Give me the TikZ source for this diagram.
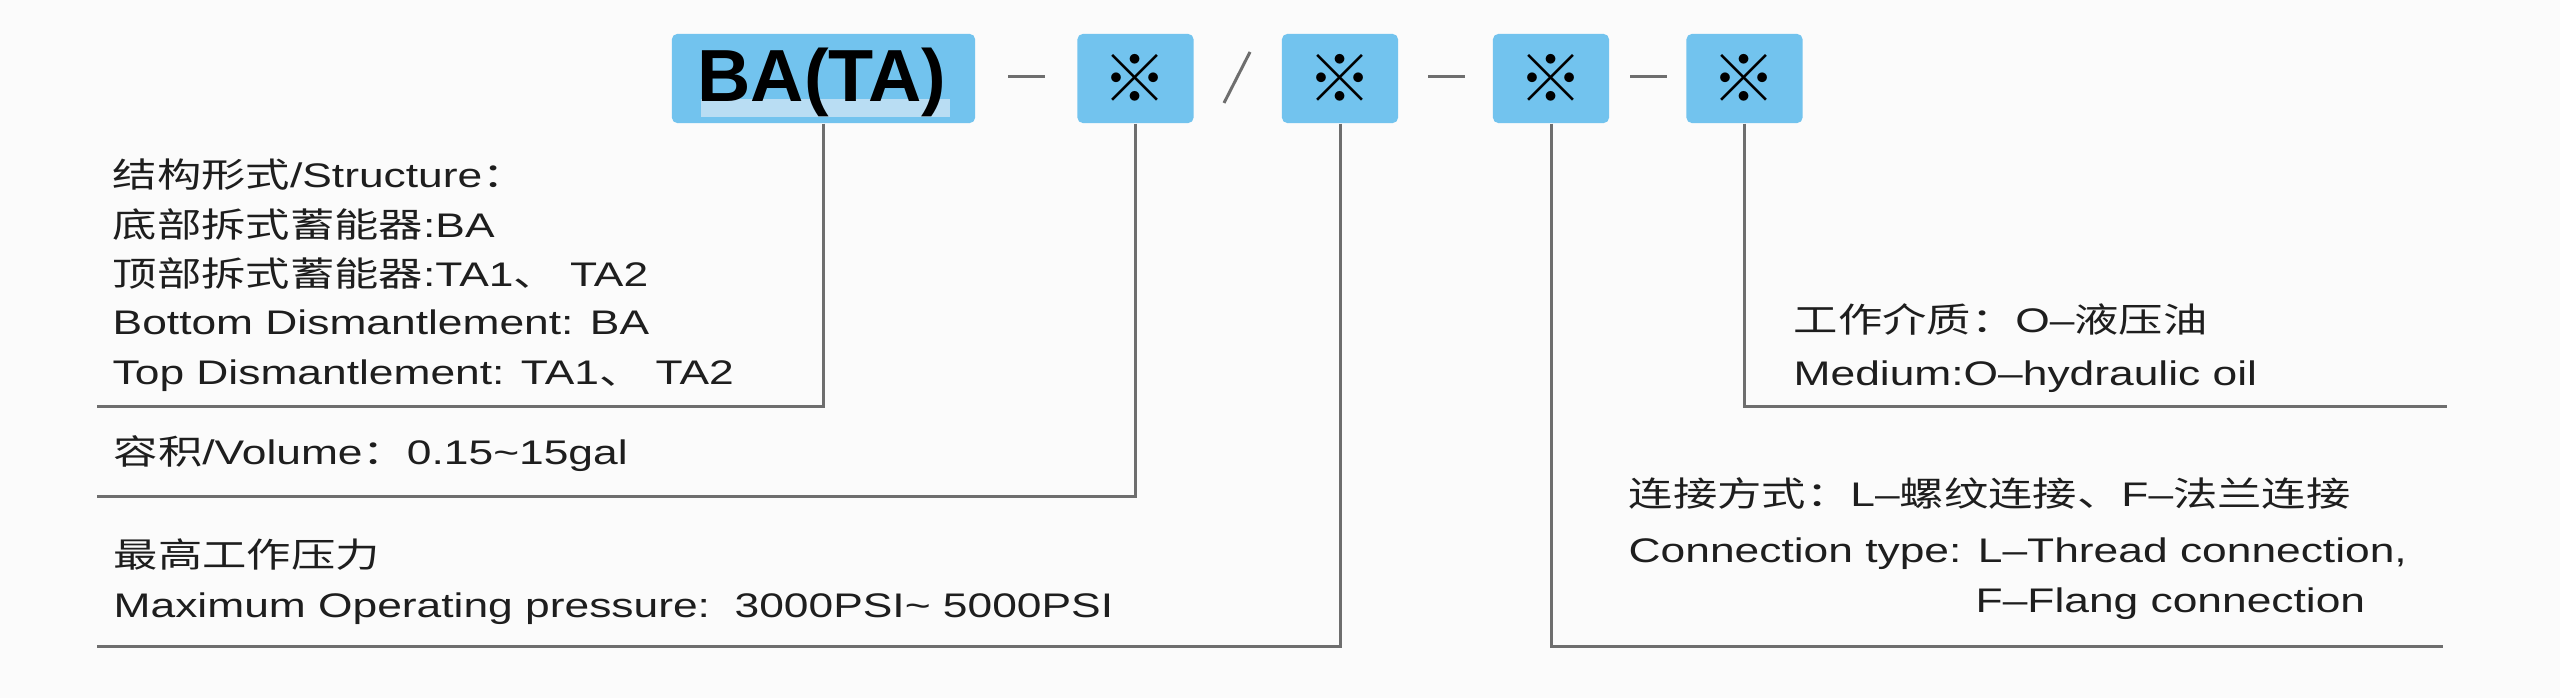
\documentclass[tikz,border=0pt]{standalone}
\usepackage{fontspec}
\setmainfont{Liberation Sans}[FakeStretch=1.3]
\newfontfamily\cjk{Noto Sans CJK SC}[FakeStretch=1.3]
\newfontfamily\codefont{Liberation Sans}
\newfontfamily\markfont{Noto Sans CJK SC}
\newcommand{\zh}[1]{{\cjk #1}}
\definecolor{boxblue}{HTML}{72C3EE}
\definecolor{paleblue}{HTML}{B9DDF3}
\definecolor{leadgray}{HTML}{6E6E6E}
\definecolor{inkgray}{HTML}{1E1E1E}
\definecolor{paper}{HTML}{FBFBFB}
\tikzset{
  codebox/.style={fill=boxblue, rounded corners=1.5pt, minimum width=3.03cm,
    minimum height=0.89cm, inner sep=0pt},
  markbox/.style={codebox, minimum width=1.16cm,
    font=\markfont\fontsize{18.5}{18.5}\selectfont},
  codetext/.style={anchor=base, inner sep=0pt,
    font=\codefont\bfseries\fontsize{21}{21}\selectfont},
  note/.style={anchor=base west, inner sep=0pt, text=inkgray,
    font=\fontsize{9.7}{14}\selectfont},
  leader/.style={draw=leadgray, line width=0.85pt},
  sep/.style={draw=leadgray, line width=0.85pt}
}

\begin{document}
\begin{tikzpicture}[x=0.01cm, y=-0.01cm]
  \fill[paper] (0, 0) rectangle (2560, 698);
  \useasboundingbox (0, 0) rectangle (2560, 698);

  % code boxes
  \node[codebox] (ba) at (823.5, 78.5) {};
  \fill[paleblue] (701, 99) rectangle (950, 117);
  \node[codetext] (batext) at (822, 102) {BA(TA)};
  \node[markbox] (b2) at (1135.5, 78.5) {※};
  \node[markbox] (b3) at (1340, 78.5) {※};
  \node[markbox] (b4) at (1551, 78.5) {※};
  \node[markbox] (b5) at (1744.5, 78.5) {※};
  \draw[sep] (1008, 77) -- (1045, 77);
  \draw[sep] (1224, 103) -- (1250, 52);
  \draw[sep] (1428, 77) -- (1465, 77);
  \draw[sep] (1630, 77) -- (1667, 77);

  % leaders
  \coordinate (stEnd) at (97, 407);
  \coordinate (volEnd) at (97, 497);
  \coordinate (prEnd) at (97, 647);
  \coordinate (cnEnd) at (2443, 647);
  \coordinate (mdEnd) at (2447, 407);
  \draw[leader] (ba.south) |- (stEnd);
  \draw[leader] (b2.south) |- (volEnd);
  \draw[leader] (b3.south) |- (prEnd);
  \draw[leader] (b4.south) |- (cnEnd);
  \draw[leader] (b5.south) |- (mdEnd);

  % texts
  \node[note] (st1) at (112, 188) {\zh{结构形式}/Structure\zh{：}};
  \node[note] (st2) at (112, 238) {\zh{底部拆式蓄能器}:BA};
  \node[note] (st3) at (112, 287) {\zh{顶部拆式蓄能器}:TA1\zh{、} TA2};
  \node[note] (st4) at (112, 335) {Bottom Dismantlement: BA};
  \node[note] (st5) at (112, 385) {Top Dismantlement: TA1\zh{、} TA2};
  \node[note] (vol) at (113, 465) {\zh{容积}/Volume\zh{：}0.15\textasciitilde15gal};
  \node[note] (pr1) at (113, 568) {\zh{最高工作压力}};
  \node[note] (pr2) at (113, 618) {Maximum Operating pressure:\ \ 3000PSI\textasciitilde{} 5000PSI};
  \node[note] (md1) at (1793, 333) {\zh{工作介质：}O–\zh{液压油}};
  \node[note] (md2) at (1793, 386) {Medium:O–hydraulic oil};
  \node[note] (cn1) at (1628, 507) {\zh{连接方式：}L–\zh{螺纹连接、}F–\zh{法兰连接}};
  \node[note] (cn2) at (1628, 563) {Connection type: L–Thread connection,};
  \node[note] (cn3) at (1975, 613) {F–Flang connection};
\end{tikzpicture}
\end{document}
